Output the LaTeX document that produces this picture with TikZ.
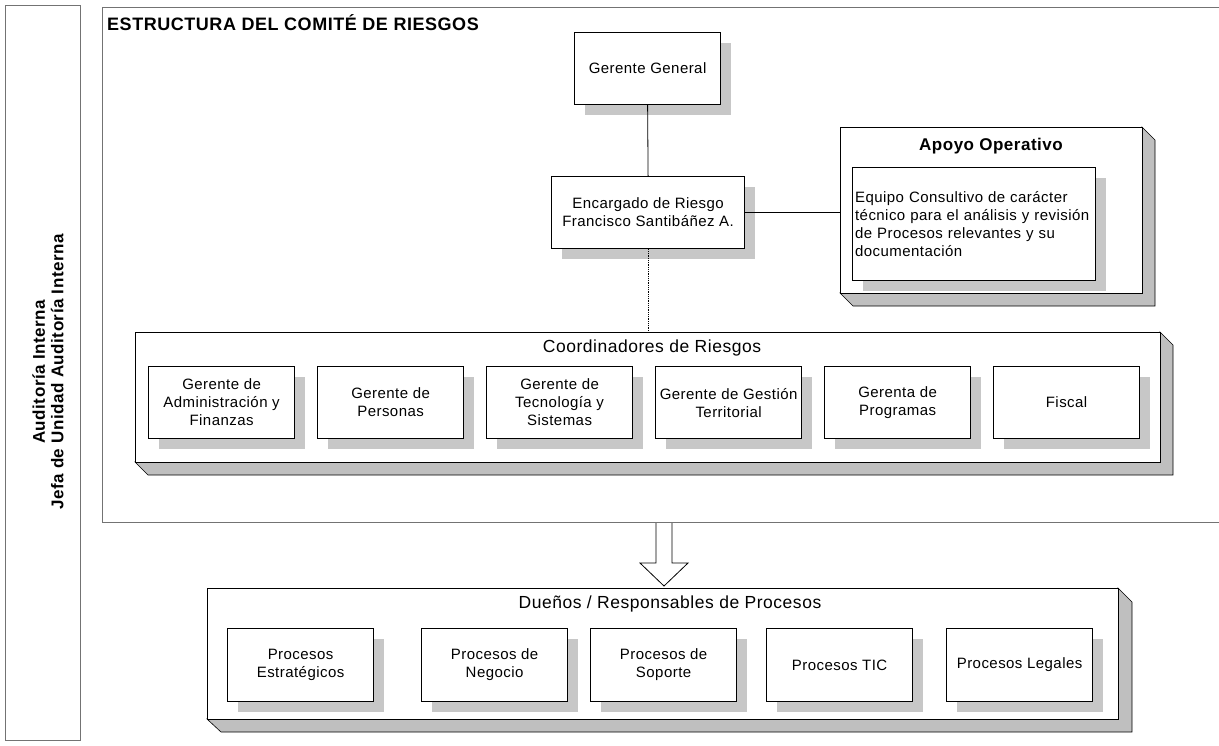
\documentclass[tikz,border=0pt]{standalone}
\usepackage{fontspec}
\setmainfont{Liberation Sans}[LetterSpace=3]
\usetikzlibrary{shadows}
\begin{document}
\begin{tikzpicture}[x=1pt,y=-1pt,
  every node/.style={inner sep=2pt},
  frame/.style={draw=black!55, line width=1pt},
  bx/.style={draw=black, line width=1.2pt, fill=white, align=center, anchor=north west,
    minimum width=146pt, minimum height=72pt, font=\fontsize{15}{18}\selectfont,
    drop shadow={shadow xshift=10pt, shadow yshift=-10pt, fill=black!22, opacity=1}},
  face/.style={draw=black, line width=0.6pt, fill=white, anchor=north west, inner sep=0pt},
  bevel/.style={draw=black, line width=0.6pt, fill=black!25},
  head/.style={font=\fontsize{17.5}{20}\selectfont},
  link/.style={draw=black, line width=0.8pt},
]
\useasboundingbox (0,0) rectangle (1219,745);

% left frame
\draw[frame] (5,5) rectangle (80,740);
\node[font=\bfseries\fontsize{17}{18.5}\selectfont, align=center, rotate=90] (aud) at (48,372)
  {Auditoría Interna\\Jefa de Unidad Auditoría Interna};

% arrow between structure and owners
\coordinate (atop) at (664,522);
\draw[fill=white, line width=0.8pt] (atop) ++(-8,0) -- ++(0,41) -- ++(-16,0) -- ++(24,23)
  -- ++(24,-23) -- ++(-16,0) -- ++(0,-41);

% main frame
\draw[frame] (1219,7) -- (102,7) -- (102,522) -- (1219,522);
\node[anchor=base west, font=\bfseries\fontsize{18}{20}\selectfont, inner sep=0pt] (title) at (107,30)
  {ESTRUCTURA DEL COMITÉ DE RIESGOS};

% top boxes
\node[bx] (gg) at (574,32) {Gerente General};
\node[bx, minimum width=193pt] (enc) at (551,176) {Encargado de Riesgo\\Francisco Santibáñez A.};

% Apoyo operativo platform
\draw[bevel] (840,293) -- (853,306) -- (1155,306) -- (1155,140) -- (1142,127) -- (1142,293) -- cycle;
\node[face, minimum width=302pt, minimum height=166pt] (apoyo) at (840,127) {};
\node[font=\bfseries\fontsize{17}{20}\selectfont] (apoyot) at (991,146) {Apoyo Operativo};
\node[bx, minimum width=243pt, minimum height=113pt, text width=238pt, align=left] (equipo) at (852,167)
  {Equipo Consultivo de carácter\\técnico para el análisis y revisión\\de Procesos relevantes y su\\documentación};

% Coordinadores platform
\draw[bevel] (135,462) -- (148,475) -- (1173,475) -- (1173,345) -- (1160,332) -- (1160,462) -- cycle;
\node[face, minimum width=1025pt, minimum height=130pt] (coord) at (135,332) {};
\node[head] (coordt) at (652,348) {Coordinadores de Riesgos};
\node[bx] (c1) at (148,366) {Gerente de\\Administración y\\Finanzas};
\node[bx] (c2) at (317,366) {Gerente de\\Personas};
\node[bx] (c3) at (486,366) {Gerente de\\Tecnología y\\Sistemas};
\node[bx] (c4) at (655,366) {Gerente de Gestión\\Territorial};
\node[bx] (c5) at (824,366) {Gerenta de\\Programas};
\node[bx] (c6) at (993,366) {Fiscal};

% connectors
\draw[link] (gg.south) -- (enc.north);
\draw[link] (enc.east) -- (enc.east -| apoyo.west);
\draw[link, densely dotted] (enc.south) -- (enc.south |- coord.north);

% Duenos platform
\draw[bevel] (207,719) -- (221,732) -- (1132,732) -- (1132,602) -- (1118,588) -- (1118,719) -- cycle;
\node[face, minimum width=911pt, minimum height=131pt] (duenos) at (207,588) {};
\node[head] (duenost) at (670,604) {Dueños / Responsables de Procesos};
\node[bx, minimum height=73pt] (p1) at (227,628) {Procesos\\Estratégicos};
\node[bx, minimum height=73pt] (p2) at (421,628) {Procesos de\\Negocio};
\node[bx, minimum height=73pt] (p3) at (590,628) {Procesos de\\Soporte};
\node[bx, minimum height=73pt] (p4) at (766,628) {Procesos TIC};
\node[bx, minimum height=73pt] (p5) at (946,628) {Procesos Legales};
\end{tikzpicture}
\end{document}
